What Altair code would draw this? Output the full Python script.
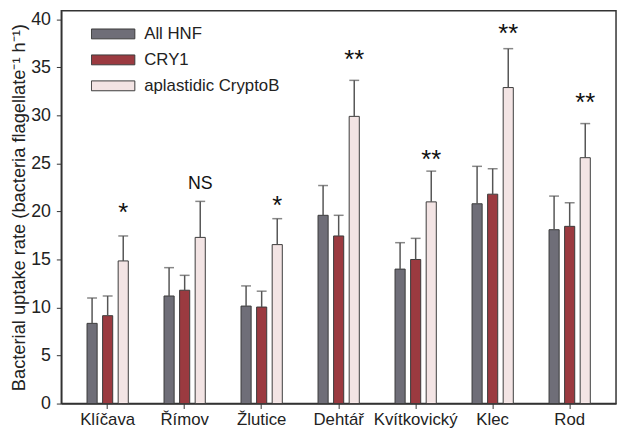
import altair as alt
import pandas as pd

sites = ["Klíčava", "Římov", "Žlutice", "Dehtář", "Kvítkovický", "Klec", "Rod"]
groups = ["All HNF", "CRY1", "aplastidic CryptoB"]

all_hnf = [8.35, 11.2, 10.15, 19.6, 14.0, 20.8, 18.1]
all_hnf_err = [2.65, 2.95, 2.1, 3.1, 2.75, 3.9, 3.5]
cry1 = [9.15, 11.8, 10.05, 17.45, 15.0, 21.8, 18.45]
cry1_err = [2.05, 1.55, 1.65, 2.15, 2.2, 2.65, 2.45]
cryptob = [14.85, 17.3, 16.55, 29.9, 21.0, 32.9, 25.6]
cryptob_err = [2.6, 3.75, 2.7, 3.75, 3.2, 4.05, 3.55]

sig_labels = ["*", "NS", "*", "**", "**", "**", "**"]
sig_y = [20.3, 22.9, 21.1, 36.3, 25.9, 39.0, 31.8]

colors = ["#6f6e78", "#9b3a40", "#f3e4e4"]
y_ticks = [0, 5, 10, 15, 20, 25, 30, 35, 40]

rows = []
for vals, errs, g in [(all_hnf, all_hnf_err, groups[0]), (cry1, cry1_err, groups[1]), (cryptob, cryptob_err, groups[2])]:
    for s, v, e in zip(sites, vals, errs):
        rows.append({"site": s, "group": g, "value": v, "top": v + e})
df = pd.DataFrame(rows)
sig = pd.DataFrame({"site": sites, "label": sig_labels, "y": sig_y, "group": groups[2]})

FONT = "Liberation Sans"

xenc = alt.X("site:N", sort=sites, title=None,
             scale=alt.Scale(paddingInner=0.464, paddingOuter=0.334),
             axis=alt.Axis(labelAngle=0, labelFontSize=17, labelFont=FONT, labelColor="#222",
                           tickSize=5, labelPadding=3, domainColor="#333", tickColor="#333",
                           domainWidth=1.5))
xoff = alt.XOffset("group:N", sort=groups,
                   scale=alt.Scale(domain=groups, paddingInner=0.35, paddingOuter=0))
yscale = alt.Scale(domain=[0, 40.9], nice=False, zero=True)

bars = alt.Chart(df).mark_bar(stroke="#3a3a3a", strokeWidth=1).encode(
    x=xenc,
    xOffset=xoff,
    y=alt.Y("value:Q", scale=yscale,
            title="Bacterial uptake rate (bacteria flagellate⁻¹ h⁻¹)",
            axis=alt.Axis(values=y_ticks, grid=False, labelFontSize=18, labelFont=FONT,
                          labelColor="#222", titleFont=FONT, titleFontSize=18.5,
                          titleFontWeight="normal", titleColor="#222", tickSize=5,
                          labelPadding=6, titlePadding=2, domainColor="#333",
                          tickColor="#333", domainWidth=1.5)),
    color=alt.Color("group:N", sort=groups,
                    scale=alt.Scale(domain=groups, range=colors),
                    legend=alt.Legend(title=None, orient="none", legendX=30, legendY=14.5,
                                      symbolType="M-1,-0.227H1V0.227H-1Z", symbolSize=1936,
                                      symbolStrokeColor="#3a3a3a", symbolStrokeWidth=1,
                                      labelFont=FONT, labelFontSize=17, labelColor="#222",
                                      labelOffset=9, clipHeight=18, rowPadding=8.3, padding=0)),
)

whisk = alt.Chart(df).mark_rule(color="#555", strokeWidth=1.5).encode(
    x=alt.X("site:N", sort=sites), xOffset=xoff,
    y=alt.Y("value:Q", scale=yscale), y2="top:Q")

caps = alt.Chart(df).mark_tick(color="#555", thickness=1.5, size=10).encode(
    x=alt.X("site:N", sort=sites), xOffset=xoff,
    y=alt.Y("top:Q", scale=yscale))

stars = alt.Chart(sig).transform_filter(alt.datum.label != "NS").mark_text(
    font=FONT, fontSize=26, baseline="middle", dy=5, color="#111").encode(
    x=alt.X("site:N", sort=sites), xOffset=alt.XOffset("group:N", sort=groups),
    y=alt.Y("y:Q", scale=yscale), text="label:N")

ns = alt.Chart(sig).transform_filter(alt.datum.label == "NS").mark_text(
    font=FONT, fontSize=18, baseline="middle", color="#111").encode(
    x=alt.X("site:N", sort=sites), xOffset=alt.XOffset("group:N", sort=groups),
    y=alt.Y("y:Q", scale=yscale), text="label:N")

chart = alt.layer(bars, whisk, caps, stars, ns).properties(
    width=562, height=398,
    autosize=alt.AutoSizeParams(type="none"),
    padding={"left": 54, "top": 0, "right": 2, "bottom": 22},
).configure_view(stroke="#333", strokeWidth=1.5)

chart.save("out.html", embed_options={"renderer": "svg", "actions": False})
